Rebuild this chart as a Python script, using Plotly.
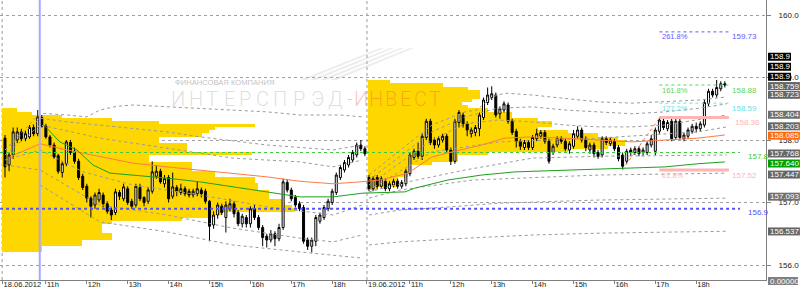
import plotly.graph_objects as go

# ---------------- data ----------------
BAR_H = 0.1        # 6-minute bars, in session hours
DAY2_T0 = 8.9      # session hour where 19.06.2012 10:00 starts

open1 = [158.03,157.60,157.76,158.00,158.13,158.02,158.05,158.20,158.10,158.36,
         158.22,158.05,157.92,157.75,157.48,157.62,157.96,157.82,157.66,157.42,
         157.26,157.07,156.96,157.04,157.12,156.98,156.88,156.84,157.16,157.06,
         157.22,157.02,156.96,157.24,157.08,157.02,157.18,157.42,157.50,157.30,
         157.40,157.10,157.24,157.16,157.22,157.18,157.12,157.14,157.20,157.18,
         157.02,156.64,156.80,156.94,156.76,156.90,156.98,156.84,156.66,156.76,
         156.66,156.90,156.76,156.60,156.46,156.40,156.50,156.42,156.60,157.32,
         157.20,157.08,156.98,156.92,156.40,156.30,156.38,156.70,156.76,156.90,
         157.00,157.16,157.40,157.52,157.60,157.68,157.76,157.92,157.86]
high1 = [158.08,157.80,158.20,158.20,158.18,158.15,158.24,158.25,158.48,158.40,
         158.26,158.08,157.96,157.78,157.66,158.00,158.00,157.88,157.70,157.46,
         157.30,157.10,157.16,157.22,157.16,157.02,156.92,157.22,157.20,157.30,
         157.26,157.06,157.30,157.30,157.10,157.24,157.66,157.60,157.54,157.44,
         157.44,157.48,157.28,157.30,157.26,157.22,157.22,157.34,157.24,157.22,
         157.04,156.86,157.00,156.98,157.02,157.06,157.02,156.88,156.82,156.80,
         156.94,156.96,156.80,156.64,156.50,156.56,156.54,156.66,157.38,157.36,
         157.24,157.12,157.02,156.96,156.44,156.44,156.80,156.84,156.96,157.06,
         157.22,157.48,157.60,157.68,157.76,157.84,157.96,158.00,157.90]
low1 = [157.40,157.50,157.70,157.95,157.98,157.98,158.02,158.06,158.06,158.20,
        158.02,157.88,157.70,157.46,157.40,157.58,157.76,157.62,157.36,157.20,
        157.00,156.76,156.90,157.00,156.92,156.82,156.72,156.80,157.04,157.02,
        156.96,156.90,156.92,157.02,156.94,156.98,157.14,157.38,157.30,157.24,
        157.00,157.06,157.10,157.12,157.10,157.08,157.08,157.10,157.08,156.98,
        156.38,156.58,156.74,156.80,156.52,156.86,156.76,156.62,156.60,156.60,
        156.60,156.72,156.56,156.30,156.28,156.36,156.30,156.38,156.56,157.16,
        157.02,156.92,156.86,156.34,156.24,156.20,156.30,156.66,156.72,156.86,
        156.96,157.12,157.36,157.48,157.56,157.64,157.72,157.82,157.74]
close1 = [157.57,157.76,158.13,158.13,158.02,158.10,158.20,158.10,158.37,158.22,
          158.05,157.92,157.73,157.50,157.62,157.97,157.80,157.66,157.40,157.24,
          157.07,156.94,157.12,157.16,156.98,156.86,156.80,157.17,157.10,157.25,
          157.00,156.94,157.26,157.06,157.00,157.20,157.49,157.50,157.33,157.38,
          157.06,157.25,157.18,157.22,157.14,157.12,157.18,157.22,157.14,157.02,
          156.62,156.80,156.96,156.84,156.96,156.98,156.82,156.66,156.78,156.66,
          156.90,156.76,156.60,156.44,156.40,156.50,156.42,156.60,157.33,157.20,
          157.06,156.96,156.90,156.38,156.30,156.40,156.76,156.80,156.92,157.02,
          157.18,157.44,157.56,157.64,157.72,157.80,157.92,157.86,157.78]

open2 = [157.40,157.22,157.40,157.26,157.34,157.22,157.28,157.34,157.26,157.30,
         157.46,157.72,157.82,157.74,158.04,158.30,158.00,157.92,158.00,158.06,
         157.84,157.66,158.28,158.40,158.26,158.10,158.12,158.18,158.36,158.60,
         158.68,158.72,158.42,158.48,158.56,158.30,158.14,157.98,157.88,157.96,
         157.88,158.02,158.06,158.12,157.98,157.80,157.92,158.02,157.98,157.84,
         157.90,158.06,158.16,158.02,157.84,157.92,157.80,157.76,158.02,157.94,
         157.98,157.88,157.76,157.66,157.84,157.80,157.86,157.80,157.80,157.92,
         157.82,158.14,158.30,158.18,158.30,158.04,158.30,158.02,158.06,158.14,
         158.22,158.18,158.24,158.58,158.78,158.72,158.82,158.90]
high2 = [157.44,157.42,157.44,157.42,157.38,157.34,157.38,157.38,157.36,157.54,
         157.80,157.86,157.96,158.10,158.34,158.34,158.04,158.06,158.10,158.10,
         157.88,158.34,158.48,158.44,158.30,158.20,158.24,158.44,158.68,158.84,
         158.86,158.76,158.54,158.62,158.60,158.34,158.18,158.02,158.00,158.00,
         158.08,158.18,158.16,158.16,158.02,157.94,158.06,158.06,158.02,157.98,
         158.16,158.22,158.20,158.06,157.96,157.96,157.84,158.06,158.06,158.04,
         158.02,157.92,157.80,157.86,157.88,157.90,157.90,157.88,157.98,158.08,
         158.20,158.36,158.34,158.32,158.34,158.34,158.34,158.12,158.20,158.26,
         158.28,158.30,158.64,158.82,158.82,158.96,158.94,158.94]
low2 = [157.18,157.18,157.22,157.22,157.18,157.18,157.24,157.22,157.22,157.26,
        157.42,157.68,157.70,157.68,158.00,157.92,157.86,157.88,157.96,157.80,
        157.60,157.62,158.20,158.20,158.06,158.04,158.06,158.06,158.32,158.56,
        158.64,158.36,158.34,158.44,158.26,158.08,157.88,157.84,157.84,157.84,
        157.84,157.98,158.02,157.94,157.62,157.76,157.88,157.94,157.82,157.78,
        157.86,158.02,157.96,157.82,157.78,157.72,157.70,157.72,157.92,157.90,
        157.82,157.66,157.52,157.62,157.74,157.76,157.74,157.74,157.76,157.88,
        157.76,158.10,158.16,158.14,157.98,158.00,158.00,157.98,158.02,158.10,
        158.12,158.14,158.20,158.54,158.68,158.68,158.78,158.84]
close2 = [157.22,157.38,157.26,157.38,157.22,157.30,157.34,157.26,157.32,157.50,
          157.76,157.82,157.74,158.06,158.30,157.96,157.92,158.02,158.06,157.84,
          157.66,158.30,158.44,158.26,158.16,158.16,158.20,158.40,158.64,158.72,
          158.74,158.40,158.50,158.58,158.30,158.12,157.98,157.90,157.96,157.88,
          158.04,158.10,158.12,157.98,157.66,157.90,158.02,157.98,157.86,157.94,
          158.10,158.16,158.00,157.88,157.92,157.78,157.74,158.02,157.96,158.00,
          157.86,157.70,157.58,157.82,157.80,157.86,157.78,157.84,157.94,158.02,
          158.16,158.32,158.20,158.28,158.02,158.30,158.04,158.08,158.16,158.22,
          158.18,158.26,158.60,158.78,158.72,158.84,158.90,158.88]

# volume profile (price level -> relative volume)
prof_lv1 = [156.23,156.28,156.33,156.38,156.43,156.48,156.53,156.58,156.63,156.68,
            156.73,156.78,156.83,156.88,156.93,156.98,157.03,157.08,157.13,157.18,
            157.23,157.28,157.33,157.38,157.43,157.48,157.53,157.58,157.63,157.68,
            157.73,157.78,157.83,157.88,157.93,157.98,158.03,158.08,158.13,158.18,
            158.23,158.28,158.33,158.38,158.43,158.48]
prof_vol1 = [40,40,80,80,110,110,100,100,100,110,
             180,213,220,293,290,283,280,267,267,267,
             256,256,253,253,213,213,190,190,190,147,
             147,250,185,185,185,157,157,200,207,213,
             253,157,110,60,30,15]
prof_lv2 = [157.23,157.28,157.33,157.38,157.43,157.48,157.53,157.58,157.63,157.68,
            157.73,157.78,157.83,157.88,157.93,157.98,158.03,158.08,158.13,158.18,
            158.23,158.28,158.33,158.38,158.43,158.48,158.53,158.58,158.63,158.68,
            158.73,158.78,158.83,158.88,158.93]
prof_vol2 = [10,30,30,30,40,40,40,40,64,90,
             90,120,200,240,257,257,250,230,200,170,
             184,184,170,144,144,120,100,94,104,112,
             112,112,100,75,22]

# moving averages (session hour, price)
ma_red_t = [0.12,0.86,1.52,2.32,3.13,3.96,4.77,5.57,6.41,7.21,8.02,8.68,9.17,9.85,
            10.20,10.44,10.93,11.66,12.22,12.89,13.69,14.50,15.33,16.14,16.94,17.60]
ma_red_p = [157.73,157.94,157.84,157.73,157.63,157.57,157.52,157.47,157.41,157.34,
            157.30,157.33,157.36,157.47,157.63,157.73,157.81,157.92,158.03,158.05,
            158.03,158.00,157.97,158.00,158.03,158.08]
ma_green_t = [0.95,1.34,1.76,2.15,2.57,3.13,3.96,4.77,5.57,6.41,7.21,8.02,8.75,9.78,
              10.02,10.83,11.66,12.47,13.69,14.91,16.14,16.94,17.60]
ma_green_p = [158.24,157.97,157.84,157.60,157.47,157.44,157.39,157.33,157.25,157.17,
              157.09,157.09,157.15,157.17,157.23,157.36,157.44,157.49,157.52,157.54,
              157.57,157.62,157.65]

# dotted envelope bands: lists of (session hour, price)
bands = [
    [(0,157.84),(0.86,158.43),(1.52,158.40),(2.0,158.37),(2.32,158.48),(2.74,158.54),(3.13,158.56),
     (3.96,158.53),(4.77,158.51),(5.57,158.48),(6.41,158.45),(7.21,158.40),(8.19,158.40),(8.73,158.37)],
    [(0,157.84),(0.86,158.35),(1.52,158.29),(2.32,158.24),(3.13,158.19),(3.96,158.13),(4.77,158.05),
     (6.41,157.92),(8.02,157.84),(8.73,157.92)],
    [(0,157.76),(0.86,158.24),(2.32,158.03),(3.96,157.87),(5.57,157.71),(7.21,157.65),(8.02,157.57),(8.73,157.68)],
    [(0,157.68),(0.86,157.84),(1.91,157.49),(3.13,157.28),(4.77,157.12),(6.41,156.93),(8.02,156.80),(8.73,156.96)],
    [(0,157.60),(0.86,157.52),(2.32,156.96),(3.96,156.80),(5.57,156.59),(7.21,156.43),(8.02,156.37),(8.73,156.48)],
    [(0.86,157.28),(2.32,156.69),(3.96,156.53),(5.57,156.32),(7.21,156.21),(8.73,156.11)],
    [(8.90,157.44),(9.66,157.84),(10.44,158.24),(11.25,158.45),(11.54,158.48),(11.91,158.69),(12.22,158.75),
     (12.89,158.72),(13.69,158.67),(14.50,158.61),(15.33,158.59),(16.14,158.61),(16.99,158.64),(17.65,158.69)],
    [(8.90,157.36),(10.44,158.13),(11.25,158.37),(12.05,158.51),(12.89,158.53),(13.69,158.48),(14.50,158.45),
     (15.33,158.42),(16.14,158.45),(16.99,158.51),(17.65,158.58)],
    [(8.90,157.28),(10.44,158.00),(11.25,158.26),(12.05,158.32),(12.89,158.29),(13.69,158.24),(14.50,158.21),
     (15.33,158.21),(16.14,158.24),(16.94,158.32),(17.65,158.40)],
    [(8.90,157.20),(10.44,157.81),(12.10,157.97),(14.50,158.03),(16.94,158.13),(17.65,158.21)],
    [(8.90,157.17),(9.85,157.33),(11.25,157.52),(12.89,157.71),(14.55,157.74),(17.65,157.76)],
    [(8.90,157.07),(9.66,157.20),(11.44,157.36),(13.57,157.42),(14.55,157.44),(17.65,157.47)],
    [(8.90,156.80),(9.66,156.88),(10.88,156.93),(12.10,156.99),(14.55,157.04),(17.65,157.07)],
    [(8.90,156.32),(9.66,156.37),(11.30,156.43),(12.91,156.48),(14.55,156.51),(17.65,156.54)],
]

# fibonacci levels
fib_names = ["261.8%", "161.8%", "127.2%", "", "61.8%"]
fib_prices = [159.73, 158.88, 158.59, 158.36, 157.52]
fib_colors = ["#5a5aff", "#5ad65a", "#6ee0e0", "#ffb4b4", "#ffb4b4"]
fib_t = [16.0, 17.7]
fib_base_t = [15.09, 16.01]          # swing used for the fibo grid
fib_base_p = [157.52, 158.36]

# full-width levels
lvl_prices = [157.8, 156.9]
lvl_colors = ["#3cc83c", "#5050ff"]

marker_t = 0.85                       # vertical marker
separators_t = [-0.07, 8.85]          # session separators

# right-side price tags
tag_text = ["158.9", "158.9", "158.9", "158.759", "158.723", "158.404", "158.203",
            "158.085", "157.768", "157.640", "157.447", "157.093", "156.537"]
tag_price = [158.9, 158.9, 158.9, 158.759, 158.723, 158.404, 158.203,
             158.085, 157.768, 157.640, 157.447, 157.093, 156.537]
tag_color = ["#000000", "#000000", "#000000", "#666666", "#666666", "#6e6e6e", "#666666",
             "#ff6a10", "#666666", "#00a000", "#666666", "#707070", "#666666"]
tag_lift = [27, 17, 7, 6.5, 0, 0, 1, -1, 1, -1, 0, 0, 0]   # stacking offsets in px

tick_t = [-0.06, 1, 2, 3, 4, 5, 6, 7, 8, 8.85, 9.9, 10.9, 11.9, 12.9, 13.9, 14.9, 15.9, 16.9]
tick_text = ["18.06.2012", "11h", "12h", "13h", "14h", "15h", "16h", "17h", "18h",
             "19.06.2012", "11h", "12h", "13h", "14h", "15h", "16h", "17h", "18h"]

# ---------------- figure ----------------
PX_PER_H = 40.9
FONT = "Liberation Sans, Arial, sans-serif"
WM_FONT = "Roboto, Liberation Sans, sans-serif"

t1 = [k * BAR_H for k in range(len(open1))]
t2 = [DAY2_T0 + k * BAR_H for k in range(len(open2))]

fig = go.Figure()

gold = "#ffd700"
fig.add_trace(go.Bar(y=prof_lv1, x=[v / PX_PER_H for v in prof_vol1], base=-0.08,
                     orientation="h", width=0.05, marker=dict(color=gold, line_width=0),
                     hoverinfo="skip"))
fig.add_trace(go.Bar(y=prof_lv2, x=[v / PX_PER_H for v in prof_vol2], base=DAY2_T0 - 0.03,
                     orientation="h", width=0.05, marker=dict(color=gold, line_width=0),
                     hoverinfo="skip"))

for b in bands:
    fig.add_trace(go.Scatter(x=[p[0] for p in b], y=[p[1] for p in b], mode="lines",
                             line=dict(color="#9a9a9a", width=1, dash="dot"), hoverinfo="skip"))

for price, col in zip(lvl_prices, lvl_colors):
    fig.add_trace(go.Scatter(x=[-0.12, 17.97], y=[price, price], mode="lines",
                             line=dict(color=col, width=2 if price == 156.9 else 1, dash="dot"),
                             hoverinfo="skip"))

for name, price, col in zip(fib_names, fib_prices, fib_colors):
    solid = col == "#ffb4b4"
    fig.add_trace(go.Scatter(x=fib_t, y=[price, price], mode="lines",
                             line=dict(color=col, width=3 if solid else 1,
                                       dash="solid" if solid else "dot"),
                             hoverinfo="skip"))
fig.add_trace(go.Scatter(x=fib_base_t, y=fib_base_p, mode="lines",
                         line=dict(color="#ff7040", width=1, dash="dot"), hoverinfo="skip"))

fig.add_trace(go.Scatter(x=ma_red_t, y=ma_red_p, mode="lines",
                         line=dict(color="#ff7a45", width=1), hoverinfo="skip"))
fig.add_trace(go.Scatter(x=ma_green_t, y=ma_green_p, mode="lines",
                         line=dict(color="#1ea01e", width=1), hoverinfo="skip"))

fig.add_trace(go.Candlestick(
    x=t1 + t2, open=open1 + open2, high=high1 + high2, low=low1 + low2, close=close1 + close2,
    increasing=dict(line=dict(color="black", width=1), fillcolor="white"),
    decreasing=dict(line=dict(color="black", width=1), fillcolor="black"),
    whiskerwidth=0, hoverinfo="skip"))

shapes = []
annotations = []

# separators and marker
for s in separators_t:
    shapes.append(dict(type="line", xref="x", yref="paper", x0=s, x1=s, y0=0, y1=1,
                       line=dict(color="#9a9a9a", width=1, dash="dot"), layer="below"))
shapes.append(dict(type="line", xref="x", yref="paper", x0=marker_t, x1=marker_t, y0=0, y1=1,
                   line=dict(color="#a8a8ff", width=2)))

# watermark
annotations.append(dict(xref="paper", yref="paper", x=173 / 766, y=1 - 82 / 280, xanchor="left",
                        yanchor="middle", showarrow=False, text="ФИНАНСОВАЯ КОМПАНИЯ",
                        font=dict(family=FONT, size=7.6, color="rgba(150,150,150,0.6)")))
wm_letters = list("ИНТЕРСПРЭД-ИНВЕСТ")
wm_x = [178, 196, 212, 229, 245, 262, 280, 299, 317, 335, 350, 361, 376, 391, 405, 420, 435]
for i, (ch, xc) in enumerate(zip(wm_letters, wm_x)):
    red = i >= 10
    annotations.append(dict(xref="paper", yref="paper", x=xc / 766, y=1 - 99 / 280,
                            xanchor="center", yanchor="middle", showarrow=False, text=ch,
                            font=dict(family=WM_FONT, size=20, weight=300,
                                      color="rgba(235,70,60,0.33)" if red else "rgba(150,150,150,0.33)")))
# logo stripes
for dx in (0, 10, 20, 30):
    shapes.append(dict(type="path", xref="paper", yref="paper",
                       path="M {:.4f},{:.4f} L {:.4f},{:.4f} L {:.4f},{:.4f} L {:.4f},{:.4f} Z".format(
                           (300 + dx) / 766, 1 - 80 / 280, (380 + dx) / 766, 1 - 48 / 280,
                           (384 + dx) / 766, 1 - 48 / 280, (306 + dx) / 766, 1 - 80 / 280),
                       fillcolor="rgba(200,200,200,0.35)", line=dict(width=0)))

# fib labels
for name, price, col in zip(fib_names, fib_prices, fib_colors):
    if name:
        annotations.append(dict(x=fib_t[0] + 0.02, y=price, xanchor="left", yanchor="middle",
                                yshift=-5, showarrow=False, text=name,
                                font=dict(family=FONT, size=7.5, color=col)))
    annotations.append(dict(x=17.72 if price != 158.36 else 17.8, y=price, xanchor="left",
                            yanchor="middle", yshift=-5, showarrow=False, text=f"{price:.2f}",
                            font=dict(family=FONT, size=8, color=col)))
for price, col in zip(lvl_prices, lvl_colors):
    annotations.append(dict(x=18.12, y=price, xanchor="left", yanchor="middle", yshift=-4,
                            showarrow=False, text=f"{price:.1f}",
                            font=dict(family=FONT, size=8, color=col)))

# price tags on the right
for txt, price, col, lift in zip(tag_text, tag_price, tag_color, tag_lift):
    w = 4.45 * (len(txt) - 1) + 2.2 + 3
    shapes.append(dict(type="rect", xref="paper", yref="y", xsizemode="pixel", ysizemode="pixel",
                       xanchor=1, yanchor=price, x0=2, x1=2 + w, y0=lift - 4, y1=lift + 4,
                       fillcolor=col, line=dict(width=0)))
    annotations.append(dict(xref="paper", x=1, y=price, xanchor="left", yanchor="middle",
                            xshift=2, yshift=lift, showarrow=False, text=txt,
                            font=dict(family=FONT, size=8, color="white")))
shapes.append(dict(type="rect", xref="paper", yref="paper", xsizemode="pixel", ysizemode="pixel",
                   xanchor=1, yanchor=0, x0=2, x1=32, y0=-5, y1=3,
                   fillcolor="#808080", line=dict(width=0)))
annotations.append(dict(xref="paper", yref="paper", x=1, y=0, xanchor="left", yanchor="middle",
                        xshift=2, yshift=-1, showarrow=False, text="0.00000",
                        font=dict(family=FONT, size=8, color="white")))

fig.update_layout(
    width=800, height=290, autosize=False,
    margin=dict(l=0, r=34, t=0, b=10),
    paper_bgcolor="white", plot_bgcolor="white",
    showlegend=False, barmode="overlay", bargap=0,
    font=dict(family=FONT, size=8, color="#222222"),
    shapes=shapes, annotations=annotations,
    xaxis=dict(range=[-0.122, 18.606], showgrid=False, zeroline=False,
               showline=True, linecolor="#808080", linewidth=1,
               ticks="outside", ticklen=3, tickcolor="#808080",
               tickvals=tick_t, ticktext=tick_text, ticklabelposition="outside right",
               ticklabelstandoff=-3,
               tickfont=dict(family=FONT, size=7.5, color="#222222"),
               rangeslider=dict(visible=False), automargin=False, fixedrange=True),
    yaxis=dict(range=[155.76, 160.24], side="right", dtick=1, tick0=156, tickformat=".1f",
               showgrid=True, gridcolor="#a0a0a0", griddash="dot", gridwidth=1,
               zeroline=False, showline=True, linecolor="#808080", linewidth=1,
               ticks="outside", ticklen=4, tickcolor="#808080", ticklabelstandoff=6,
               tickfont=dict(family=FONT, size=8, color="#222222"),
               automargin=False, fixedrange=True),
)

fig.write_html("out.html", config=dict(displayModeBar=False, staticPlot=True))
